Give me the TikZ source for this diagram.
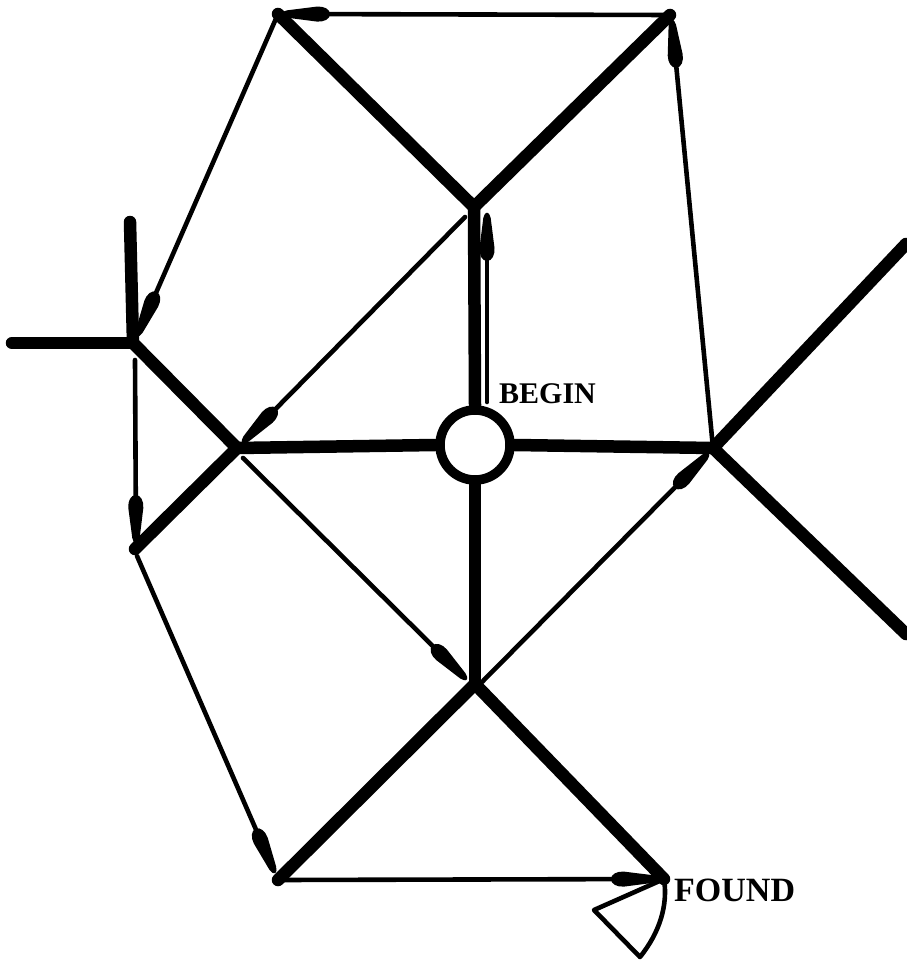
\documentclass[tikz,border=0pt]{standalone}
\usepackage{fontspec}
\setmainfont{Liberation Serif}
\usetikzlibrary{decorations.markings}
\begin{document}
\begin{tikzpicture}[x=1pt,y=-1pt,
  thickline/.style={line width=12.5pt,line cap=round,line join=round},
  thinline/.style={line width=4.6pt,line cap=round,line join=round},
  arr/.style={thinline,postaction={decorate},
    decoration={markings,mark=at position 1 with {%
      \fill (2pt,0pt) .. controls (2pt,2pt) and (0pt,3pt) .. (-3pt,3.7pt) -- (-33pt,7.5pt)
        .. controls (-40pt,8pt) and (-46pt,5pt) .. (-46pt,0pt)
        .. controls (-46pt,-5pt) and (-40pt,-8pt) .. (-33pt,-7.5pt) -- (-3pt,-3.7pt)
        .. controls (0pt,-3pt) and (2pt,-2pt) .. (2pt,0pt) -- cycle;}}},
  lbl/.style={font=\bfseries\fontsize{30}{30}\selectfont,anchor=west,inner sep=0pt}]
\useasboundingbox (0,0) rectangle (906,963);
% junctions
\coordinate (TL) at (278,14);
\coordinate (TR) at (670,15);
\coordinate (V) at (474,207);
\coordinate (LT) at (133,343);
\coordinate (LTu) at (130,222);
\coordinate (LTl) at (12,343);
\coordinate (J) at (237,448);
\coordinate (R) at (713,448);
\coordinate (L2) at (135,549);
\coordinate (B) at (475,684);
\coordinate (BL) at (278,880);
\coordinate (F) at (664,879);
\coordinate (RU) at (906,244);
\coordinate (RD) at (906,634);
\node[circle,draw,line width=9.5pt,minimum size=70pt,inner sep=0pt] (S) at (475,445) {};
% thick network
\draw[thickline] (TL) -- (V) -- (TR);
\draw[thickline] (V) -- (S.north);
\draw[thickline] (J) -- (S.west);
\draw[thickline] (S.east) -- (R);
\draw[thickline] (S.south) -- (B);
\draw[thickline] (BL) -- (B) -- (F);
\draw[thickline] (LTu) -- (LT) -- (J) -- (L2);
\draw[thickline] (LTl) -- (LT);
\draw[thickline] (RU) -- (R) -- (RD);
% thin arrows
\coordinate (tlh) at (284,14);
\draw[arr] (TR) -- (tlh);
\coordinate (trh) at (672,22);
\draw[arr] (R) -- (trh);
\coordinate (lth) at (138,334);
\draw[arr] (TL) -- (lth);
\coordinate (l2h) at (136,541);
\draw[arr] (135,360) -- (l2h);
\coordinate (blh) at (274,871);
\draw[arr] (137,556) -- (blh);
\coordinate (fh) at (657,879);
\draw[arr] (BL) -- (fh);
\coordinate (jh) at (244,441);
\draw[arr] (465,217) -- (jh);
\coordinate (bh) at (465,678);
\draw[arr] (243,458) -- (bh);
\coordinate (rh) at (707,455);
\draw[arr] (482,682) -- (rh);
\coordinate (bs) at (487,402);
\coordinate (be) at (487,215);
\draw[arr] (bs) -- (be);
% loop at FOUND
\draw[thinline] (F) -- (594,910) -- (640,957) .. controls (660,932) and (668,905) .. (F);
% labels
\node[lbl] (begin) at (499,394) {BEGIN};
\node[lbl,font=\bfseries\fontsize{34}{34}\selectfont] (found) at (674,890) {FOUND};
\end{tikzpicture}
\end{document}
